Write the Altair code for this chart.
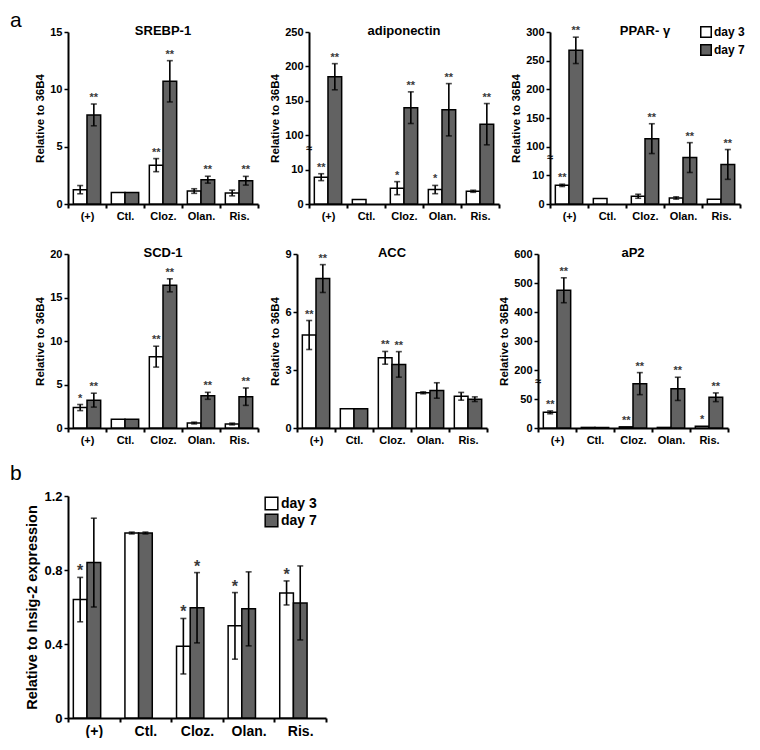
import altair as alt
import pandas as pd

FONT = "Liberation Sans"
cats = ["(+)", "Ctl.", "Cloz.", "Olan.", "Ris."]
days = ["day 3", "day 7"]
colors = ["white", "#626262"]

# ---- data (mean, error, significance) ----
srebp_d3 = [1.25, 1.0, 3.39, 1.13, 0.96]
srebp_e3 = [0.36, 0, 0.57, 0.2, 0.25]
srebp_d7 = [7.77, 1.0, 10.7, 2.12, 2.03]
srebp_e7 = [0.95, 0, 1.8, 0.3, 0.38]
srebp_s3 = ["", "", "**", "", ""]
srebp_s7 = ["**", "", "**", "**", "**"]

adipo_d3 = [7.8, 1.3, 4.6, 4.2, 3.7]
adipo_e3 = [1.0, 0, 1.9, 1.2, 0.3]
adipo_d7 = [185, None, 140, 137, 116]
adipo_e7 = [19, 0, 23, 38, 30]
adipo_s3 = ["**", "", "*", "*", ""]
adipo_s7 = ["**", "", "**", "**", "**"]

pparg_d3 = [6.5, 1.9, 2.7, 2.1, 1.7]
pparg_e3 = [0.4, 0, 0.7, 0.4, 0]
pparg_d7 = [268, None, 114, 81, 69]
pparg_e7 = [23, 0, 26, 26, 26]
pparg_s3 = ["**", "", "", "", ""]
pparg_s7 = ["**", "", "**", "**", "**"]

scd_d3 = [2.35, 1.0, 8.2, 0.57, 0.46]
scd_e3 = [0.35, 0, 1.2, 0.1, 0.1]
scd_d7 = [3.2, 1.0, 16.4, 3.7, 3.6]
scd_e7 = [0.8, 0, 0.75, 0.4, 1.0]
scd_s3 = ["*", "", "**", "", ""]
scd_s7 = ["**", "", "**", "**", "**"]

acc_d3 = [4.81, 1.0, 3.63, 1.82, 1.64]
acc_e3 = [0.75, 0, 0.33, 0.05, 0.2]
acc_d7 = [7.73, 1.0, 3.29, 1.94, 1.49]
acc_e7 = [0.72, 0, 0.66, 0.4, 0.12]
acc_s3 = ["**", "", "**", "", ""]
acc_s7 = ["**", "", "**", "", ""]

ap2_d3 = [27, 1, 2, 1, 3]
ap2_e3 = [2.5, 0, 0, 0, 0]
ap2_d7 = [475, 1, 153, 135, 106]
ap2_e7 = [43, 0, 38, 40, 15]
ap2_s3 = ["**", "", "**", "", "*"]
ap2_s7 = ["**", "", "**", "**", "**"]

insig_d3 = [0.64, 1.0, 0.388, 0.498, 0.676]
insig_e3 = [0.12, 0.005, 0.15, 0.18, 0.065]
insig_d7 = [0.84, 1.0, 0.596, 0.59, 0.622]
insig_e7 = [0.24, 0.005, 0.19, 0.2, 0.2]
insig_s3 = ["*", "", "*", "*", "*"]
insig_s7 = ["", "", "*", "", ""]

# tick labels
srebp_ticks = [0, 5, 10, 15]
adipo_ticks = ["0", "10", "100", "150", "200", "250"]
pparg_ticks = ["0", "10", "100", "150", "200", "250", "300"]
scd_ticks = [0, 5, 10, 15, 20]
acc_ticks = [0, 3, 6, 9]
ap2_ticks = ["0", "50", "200", "300", "400", "500", "600"]
insig_ticks = [0, 0.4, 0.8, 1.2]

# broken axes: (lower unit, upper base, upper unit)
adipo_brk = (10, 100, 50)
pparg_brk = (10, 100, 50)
ap2_brk = (50, 200, 100)


def build_df(d3, e3, d7, e7, s3, s7, brk):
    rows = []
    for i, c in enumerate(cats):
        for day, m, e, s in ((days[0], d3[i], e3[i], s3[i]), (days[1], d7[i], e7[i], s7[i])):
            if m is None:
                continue
            if brk is None:
                f = lambda v: v
            else:
                L, U0, S = brk
                if m > 2 * L:
                    f = lambda v, U0=U0, S=S: 2 + (v - U0) / S
                else:
                    f = lambda v, L=L: v / L
            rows.append(dict(cat=c, day=day, y=f(m), lo=f(m - e), hi=f(m + e), err=e, star=s))
    return pd.DataFrame(rows)


def label_layer(txt, lx, ly, size, weight, align, baseline):
    return alt.Chart(pd.DataFrame({"t": [txt]})).mark_text(
        font=FONT, fontSize=size, fontWeight=weight, color="black", align=align,
        baseline=baseline).encode(x=alt.value(lx), y=alt.value(ly), text="t:N")


def panel(title, df, ymax, tickvals, ticklabels, w, h, opo, legend=None, big=False,
          brk=False, letter=None):
    lab = 13 if big else 11
    ytitle = "Relative to Insig-2 expression" if big else "Relative to 36B4"
    axis_kw = dict(grid=False, domainColor="black", domainWidth=2, tickColor="black",
                   tickWidth=1.5, tickSize=4, labelFont=FONT, labelFontWeight="bold",
                   labelFontSize=lab, labelColor="black", titleFont=FONT,
                   titleFontWeight="bold", titleFontSize=14.5 if big else 11.5,
                   titleColor="black", labelPadding=2, titlePadding=4)
    if ticklabels is not None:
        expr = "[" + ",".join("'%s'" % t for t in ticklabels) + "][datum.value]"
        yaxis = alt.Axis(values=tickvals, labelExpr=expr, title=ytitle, **axis_kw)
    else:
        yaxis = alt.Axis(values=tickvals, title=ytitle, format="~g", **axis_kw)
    yscale = alt.Scale(domain=[0, ymax], nice=False, zero=True)

    def Y(field):
        return alt.Y(field, type="quantitative", scale=yscale, axis=yaxis)

    xaxis = alt.Axis(title=None, labelAngle=0, tickBand="extent", grid=False,
                     domainColor="black", domainWidth=2, tickColor="black", tickWidth=2,
                     tickSize=4, labelFont=FONT, labelFontWeight="bold",
                     labelFontSize=14 if big else 11, labelColor="black", labelPadding=2)
    x = alt.X("cat:N", sort=cats, scale=alt.Scale(domain=cats, paddingInner=0, paddingOuter=0), axis=xaxis)
    xo = alt.XOffset("day:N", sort=days, scale=alt.Scale(domain=days, paddingInner=0, paddingOuter=opo))

    base = alt.Chart(df)
    fill = alt.Fill("day:N", scale=alt.Scale(domain=days, range=colors),
                    legend=legend if legend is not None else None)
    bars = base.mark_bar(stroke="black", strokeWidth=1.5).encode(x=x, xOffset=xo, y=Y("y"), fill=fill)
    eb = base.transform_filter("datum.err > 0")
    rule = eb.mark_rule(color="black", strokeWidth=1.6).encode(x=x, xOffset=xo, y=Y("lo"), y2="hi")
    cap1 = eb.mark_tick(color="black", thickness=1.6, size=6).encode(x=x, xOffset=xo, y=Y("lo"))
    cap2 = eb.mark_tick(color="black", thickness=1.6, size=6).encode(x=x, xOffset=xo, y=Y("hi"))
    stars = base.mark_text(baseline="bottom", dy=-1 if not big else 2, font=FONT, fontWeight="bold",
                           fontSize=16 if big else 11, color="#3a3a3a").encode(
        x=x, xOffset=xo, y=Y("hi"), text="star:N")
    layers = [bars, rule, cap1, cap2, stars]
    if brk:
        br = alt.Chart(pd.DataFrame({"b": [1.6]})).mark_text(
            text="≈", font=FONT, fontSize=11, fontWeight="bold", color="black").encode(
            x=alt.value(0), y=Y("b"))
        layers.append(br)
    if title:
        layers.append(label_layer(title, w / 2, -1, 13, "bold", "center", "middle"))
    if letter is not None:
        txt, lx, ly = letter
        layers.append(label_layer(txt, lx, ly, 21, "normal", "left", "top"))
    return alt.layer(*layers).properties(width=w, height=h)


legend_a = alt.Legend(orient="none", legendX=150, legendY=-6, title=None, symbolType="square",
                      symbolSize=110, symbolStrokeColor="black", symbolStrokeWidth=1.5,
                      labelFont=FONT, labelFontSize=12, labelFontWeight="bold",
                      labelColor="black", rowPadding=0, labelOffset=2, padding=0)
legend_b = alt.Legend(orient="none", legendX=196, legendY=0, title=None, symbolType="square",
                      symbolSize=160, symbolStrokeColor="black", symbolStrokeWidth=1.5,
                      labelFont=FONT, labelFontSize=14, labelFontWeight="bold",
                      labelColor="black", rowPadding=-2, labelOffset=2, padding=0)

W, H = 190, 172
p1 = panel("SREBP-1", build_df(srebp_d3, srebp_e3, srebp_d7, srebp_e7, srebp_s3, srebp_s7, None),
           15, srebp_ticks, None, W, H, 0.39, letter=("a", -58, -22))
p2 = panel("adiponectin", build_df(adipo_d3, adipo_e3, adipo_d7, adipo_e7, adipo_s3, adipo_s7, adipo_brk),
           5, list(range(6)), adipo_ticks, W, H, 0.39, brk=True)
p3 = panel("PPAR- γ", build_df(pparg_d3, pparg_e3, pparg_d7, pparg_e7, pparg_s3, pparg_s7, pparg_brk),
           6, list(range(7)), pparg_ticks, W, H, 0.39, legend=legend_a, brk=True)
p4 = panel("SCD-1", build_df(scd_d3, scd_e3, scd_d7, scd_e7, scd_s3, scd_s7, None),
           20, scd_ticks, None, W, 174, 0.39)
p5 = panel("ACC", build_df(acc_d3, acc_e3, acc_d7, acc_e7, acc_s3, acc_s7, None),
           9, acc_ticks, None, W, 174, 0.39)
p6 = panel("aP2", build_df(ap2_d3, ap2_e3, ap2_d7, ap2_e7, ap2_s3, ap2_s7, ap2_brk),
           6, list(range(7)), ap2_ticks, W, 174, 0.39, brk=True)
pb = panel(None, build_df(insig_d3, insig_e3, insig_d7, insig_e7, insig_s3, insig_s7, None),
           1.2, insig_ticks, None, 258, 222, 0.44, legend=legend_b, big=True,
           letter=("b", -58, -33))

row1 = alt.hconcat(p1, p2, p3, spacing=10).resolve_scale(fill="independent").resolve_legend(fill="independent")
row2 = alt.hconcat(p4, p5, p6, spacing=10).resolve_scale(fill="independent").resolve_legend(fill="independent")
top = alt.vconcat(row1, row2, spacing=26).resolve_scale(fill="independent").resolve_legend(fill="independent")
chart = alt.vconcat(top, pb, spacing=18).resolve_scale(fill="independent").resolve_legend(
    fill="independent").properties(
    padding={"left": 2, "top": 2, "right": 0, "bottom": 0},
).configure_view(stroke=None)

chart.save("out.html", embed_options={"renderer": "svg", "actions": False})
